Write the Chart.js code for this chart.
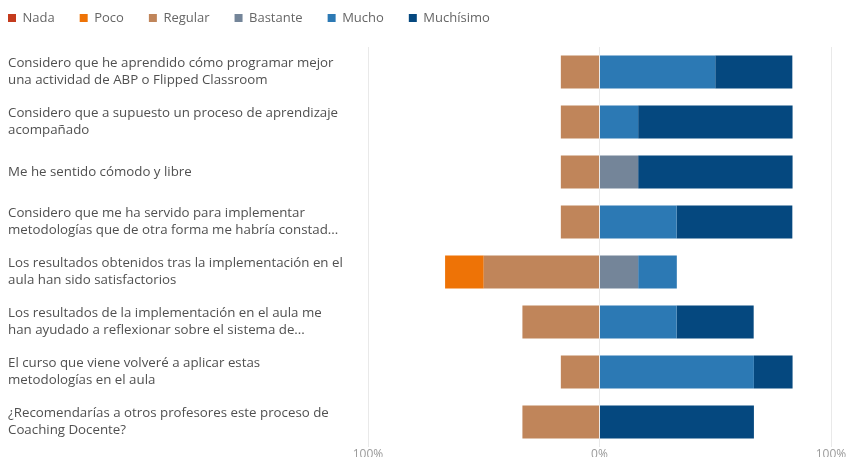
<!DOCTYPE html>
<html lang="es">
<head>
<meta charset="utf-8">
<title>Valoración del proceso de Coaching Docente</title>
<script src="https://cdn.jsdelivr.net/npm/chart.js@4/dist/chart.umd.min.js"></script>
<style>
  html, body { margin: 0; padding: 0; background: #fff; overflow: hidden; }
  #wrap { position: relative; width: 848px; height: 467px; }
</style>
</head>
<body>
<div id="wrap"><canvas id="chart"></canvas></div>
<script>
// Preguntas (eje Y)
const preguntas = [
    ['Considero que he aprendido cómo programar mejor', 'una actividad de ABP o Flipped Classroom'],
    ['Considero que a supuesto un proceso de aprendizaje', 'acompañado'],
    'Me he sentido cómodo y libre',
    ['Considero que me ha servido para implementar', 'metodologías que de otra forma me habría constad...'],
    ['Los resultados obtenidos tras la implementación en el', 'aula han sido satisfactorios'],
    ['Los resultados de la implementación en el aula me', 'han ayudado a reflexionar sobre el sistema de...'],
    ['El curso que viene volveré a aplicar estas', 'metodologías en el aula'],
    ['¿Recomendarías a otros profesores este proceso de', 'Coaching Docente?']
];

// Porcentaje de respuestas por opción
const nada       = [0, 0, 0, 0, 0, 0, 0, 0];
const poco       = [0, 0, 0, 0, 16.7, 0, 0, 0];
const regular    = [16.7, 16.7, 16.7, 16.7, 50, 33.3, 16.7, 33.3];
const bastante   = [0, 0, 16.7, 0, 16.7, 0, 0, 0];
const mucho      = [50, 16.7, 0, 33.3, 16.7, 33.3, 66.7, 0];
const muchisimo  = [33.3, 66.7, 66.7, 50, 0, 33.3, 16.7, 66.7];

const ticksX = [-100, 0, 100];

// Las respuestas negativas van a la izquierda del 0
const negativo = v => v.map(x => -x);

// order: controla el apilado (Regular pegado al 0, luego Poco, luego Nada)
const datasets = [
    { label: 'Nada',      data: negativo(nada),    backgroundColor: '#C43B1D', order: 2 },
    { label: 'Poco',      data: negativo(poco),    backgroundColor: '#EE7306', order: 1 },
    { label: 'Regular',   data: negativo(regular), backgroundColor: '#C0855A', order: 0 },
    { label: 'Bastante',  data: bastante,          backgroundColor: '#748599', order: 3 },
    { label: 'Mucho',     data: mucho,             backgroundColor: '#2C79B4', order: 4 },
    { label: 'Muchísimo', data: muchisimo,         backgroundColor: '#05487F', order: 5 }
];

const fuente = '"Open Sans", "Noto Sans", sans-serif';

// Ajusta la leyenda: alto fijo y posición arriba a la izquierda
const ajusteLeyenda = {
    id: 'ajusteLeyenda',
    beforeInit(chart) {
        const fitOriginal = chart.legend.fit;
        chart.legend.fit = function () {
            fitOriginal.call(this);
            this.height = 47;
        };
    },
    beforeDraw(chart) {
        chart.legend.left = 8 - 25;
        chart.legend.top = 18 - 25 - 6.5;
    }
};

new Chart(document.getElementById('chart'), {
    type: 'bar',
    data: { labels: preguntas, datasets: datasets },
    options: {
        indexAxis: 'y',
        responsive: true,
        maintainAspectRatio: false,
        animation: false,
        layout: { padding: { left: 8, right: 17, top: 0, bottom: 0 } },
        datasets: {
            bar: { categoryPercentage: 1, barPercentage: 0.66, borderWidth: 0 }
        },
        scales: {
            x: {
                stacked: true,
                min: -100,
                max: 100,
                afterBuildTicks(axis) {
                    axis.ticks = ticksX.map(v => ({ value: v }));
                },
                grid: { color: '#e9e9e9', drawTicks: false },
                border: { display: false },
                ticks: {
                    padding: 0,
                    color: '#9a9a9a',
                    font: { family: fuente, size: 12 },
                    callback: v => Math.abs(v) + '%'
                }
            },
            y: {
                stacked: true,
                afterFit(axis) { axis.width = 360; },
                grid: { display: false },
                border: { display: false },
                ticks: {
                    crossAlign: 'far',
                    color: '#505050',
                    font: { family: fuente, size: 13.3, lineHeight: 1.28 }
                }
            }
        },
        plugins: {
            legend: {
                position: 'top',
                align: 'start',
                labels: {
                    boxWidth: 8,
                    boxHeight: 8,
                    padding: 25,
                    color: '#666',
                    font: { family: fuente, size: 13 },
                    sort: (a, b) => a.datasetIndex - b.datasetIndex
                }
            },
            tooltip: { enabled: false }
        }
    },
    plugins: [ajusteLeyenda]
});
</script>
</body>
</html>
